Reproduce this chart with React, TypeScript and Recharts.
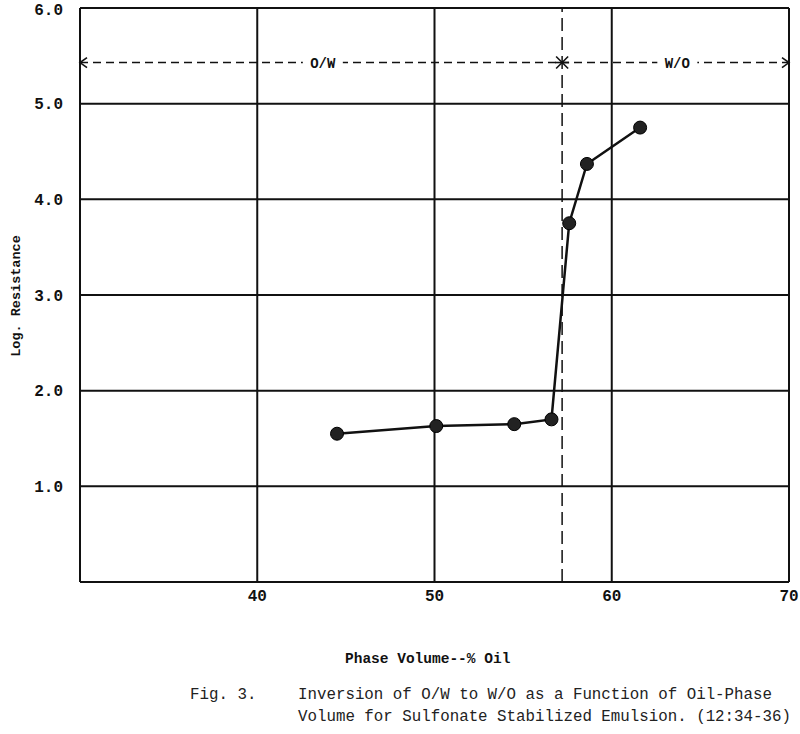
import { LineChart, Line, XAxis, YAxis, CartesianGrid, ReferenceLine, ReferenceDot } from 'recharts';

// phase volume (% oil) and log resistance
const phaseVolume = [44.5, 50.1, 54.5, 56.6, 57.6, 58.6, 61.6];
const logResistance = [1.55, 1.63, 1.65, 1.70, 3.75, 4.37, 4.75];

const xTicks = [30, 40, 50, 60, 70];
const yTicks = [0, 1, 2, 3, 4, 5, 6];

// inversion point and the O/W - W/O band
const inversionX = 57.2;
const bandY = 5.43;
const bandLabels = [
  { x: 43.7, text: 'O/W' },
  { x: 63.7, text: 'W/O' },
];

const data = phaseVolume.map((v, i) => ({ x: v, y: logResistance[i] }));

const mono = '"Liberation Mono", "DejaVu Sans Mono", monospace';

const ArrowHead = (dir: number) => (props: any) => {
  const { cx, cy } = props;
  return (
    <path
      d={`M${cx - dir * 7},${cy - 5} L${cx},${cy} L${cx - dir * 7},${cy + 5}`}
      fill="none"
      stroke="#111"
      strokeWidth={1.6}
    />
  );
};

const Star = (props: any) => {
  const { cx, cy } = props;
  return (
    <g stroke="#111" strokeWidth={1.6}>
      <line x1={cx - 6} y1={cy - 6} x2={cx + 6} y2={cy + 6} />
      <line x1={cx - 6} y1={cy + 6} x2={cx + 6} y2={cy - 6} />
      <line x1={cx - 7} y1={cy} x2={cx + 7} y2={cy} />
    </g>
  );
};

const BandLabel = (text: string) => (props: any) => {
  const { cx, cy } = props;
  return (
    <g>
      <rect x={cx - 20} y={cy - 9} width={40} height={18} fill="#fff" />
      <text x={cx} y={cy + 5} textAnchor="middle" fontFamily={mono} fontSize={14} fontWeight="bold" fill="#111">
        {text}
      </text>
    </g>
  );
};

export default function App() {
  return (
    <div style={{ position: 'absolute', left: 0, top: 0, width: 800, height: 734, background: '#fff' }}>
      <LineChart width={800} height={734} data={data} margin={{ top: 8, right: 11, bottom: 122, left: 0 }}>
        <CartesianGrid stroke="#111" strokeWidth={2} />
        <XAxis
          dataKey="x"
          type="number"
          domain={[30, 70]}
          ticks={xTicks}
          height={30}
          axisLine={false}
          tickLine={false}
          tickSize={0}
          tickMargin={8}
          tickFormatter={(v: number) => (v === 30 ? '' : String(v))}
          tick={{ fill: '#111', fontFamily: mono, fontSize: 16, fontWeight: 'bold' }}
        />
        <YAxis
          type="number"
          domain={[0, 6]}
          ticks={yTicks}
          width={80}
          axisLine={false}
          tickLine={false}
          tickSize={0}
          tickMargin={17}
          tickFormatter={(v: number) => (v === 0 ? '' : v.toFixed(1))}
          tick={{ fill: '#111', fontFamily: mono, fontSize: 16, fontWeight: 'bold' }}
        />
        <ReferenceLine x={inversionX} stroke="#111" strokeWidth={1.5} strokeDasharray="13 6" />
        <ReferenceLine y={bandY} stroke="#111" strokeWidth={1.5} strokeDasharray="8 5" />
        <ReferenceDot x={30} y={bandY} shape={ArrowHead(-1)} />
        <ReferenceDot x={70} y={bandY} shape={ArrowHead(1)} />
        <ReferenceDot x={inversionX} y={bandY} shape={Star} />
        {bandLabels.map((b) => (
          <ReferenceDot key={b.text} x={b.x} y={bandY} shape={BandLabel(b.text)} />
        ))}
        <Line
          dataKey="y"
          stroke="#111"
          strokeWidth={2.5}
          dot={{ r: 6.5, fill: '#222', stroke: '#000', strokeWidth: 1 }}
          isAnimationActive={false}
        />
      </LineChart>
      <div
        style={{
          position: 'absolute',
          left: 16,
          top: 296,
          transform: 'translate(-50%, -50%) rotate(-90deg)',
          whiteSpace: 'nowrap',
          fontFamily: mono,
          fontWeight: 'bold',
          fontSize: 13.5,
          color: '#111',
        }}
      >
        Log. Resistance
      </div>
      <div style={{ position: 'absolute', left: 345, top: 651, fontFamily: mono, fontWeight: 'bold', fontSize: 14.5, color: '#111', whiteSpace: 'pre' }}>
        Phase Volume--% Oil
      </div>
      <div style={{ position: 'absolute', left: 190, top: 684, fontFamily: mono, fontSize: 15.8, color: '#222', whiteSpace: 'pre', lineHeight: '22px' }}>
        {'Fig. 3.'}
      </div>
      <div style={{ position: 'absolute', left: 298, top: 684, fontFamily: mono, fontSize: 15.8, color: '#222', whiteSpace: 'pre', lineHeight: '22px' }}>
        {'Inversion of O/W to W/O as a Function of Oil-Phase\nVolume for Sulfonate Stabilized Emulsion. (12:34-36)'}
      </div>
    </div>
  );
}
